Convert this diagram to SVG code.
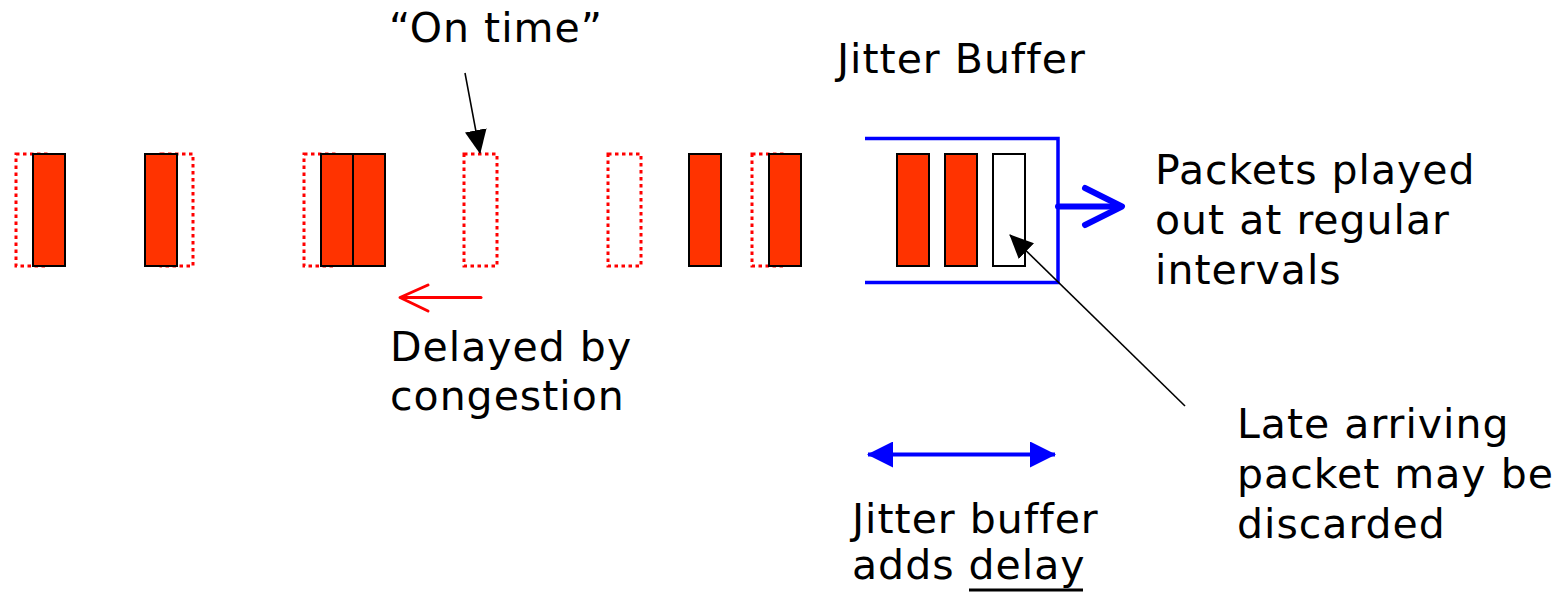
<svg xmlns="http://www.w3.org/2000/svg" width="1564" height="595" viewBox="0 0 1564 595">
  <style>
    .lbl { font-family: "DejaVu Sans", Verdana, sans-serif; font-size: 41px; letter-spacing: 1px; fill: #000; }
    .pkt { fill: #FF3300; stroke: #000; stroke-width: 2; }
    .slot { fill: #fff; stroke: #000; stroke-width: 2; }
    .ghost { fill: none; stroke: #FF0000; stroke-width: 3; stroke-dasharray: 3.5 3.5; }
    .thin { stroke: #000; stroke-width: 1.6; fill: none; }
  </style>
  <defs>
    <marker id="headBlack" markerUnits="userSpaceOnUse" markerWidth="24" markerHeight="22" viewBox="0 0 24 22" refX="23" refY="11" orient="auto">
      <path d="M0,0 L24,11 L0,22 Z" fill="#000"/>
    </marker>
    <marker id="headBlue" markerUnits="userSpaceOnUse" markerWidth="26" markerHeight="26" viewBox="0 0 26 26" refX="25" refY="13" orient="auto-start-reverse">
      <path d="M0,0 L26,13 L0,26 Z" fill="#0000FF"/>
    </marker>
  </defs>
  <rect width="1564" height="595" fill="#fff"/>

  <!-- expected packet positions (dotted outlines) -->
  <g id="ghosts">
    <rect class="ghost" x="16" y="154" width="32" height="112"/>
    <rect class="ghost" x="161" y="154" width="32" height="112"/>
    <rect class="ghost" x="304" y="154" width="32" height="112"/>
    <rect class="ghost" x="464" y="154" width="33" height="112"/>
    <rect class="ghost" x="608" y="154" width="33" height="112"/>
    <rect class="ghost" x="752" y="154" width="33" height="112"/>
  </g>

  <!-- actual packets as received -->
  <g id="packets">
    <rect class="pkt" x="33" y="154" width="32" height="112"/>
    <rect class="pkt" x="145" y="154" width="32" height="112"/>
    <rect class="pkt" x="321" y="154" width="32" height="112"/>
    <rect class="pkt" x="353" y="154" width="32" height="112"/>
    <rect class="pkt" x="689" y="154" width="32" height="112"/>
    <rect class="pkt" x="769" y="154" width="32" height="112"/>
  </g>

  <!-- jitter buffer -->
  <g id="jitter-buffer">
    <path d="M865,138.5 H1058 V282.5 H865" fill="none" stroke="#0000FF" stroke-width="3.5"/>
    <rect class="pkt" x="897" y="154" width="32" height="112"/>
    <rect class="pkt" x="945" y="154" width="32" height="112"/>
    <rect class="slot" x="993" y="154" width="32" height="112"/>
  </g>

  <!-- connectors -->
  <g id="connectors">
    <line class="thin" x1="465" y1="73" x2="480" y2="153" marker-end="url(#headBlack)"/>
    <line class="thin" x1="1185" y1="406" x2="1010" y2="235" marker-end="url(#headBlack)"/>
    <g fill="none" stroke="#FF0000" stroke-width="3" stroke-linecap="round" stroke-linejoin="round">
      <line x1="481" y1="297.5" x2="401" y2="297.5"/>
      <polyline points="428,285 400,297.5 428,311"/>
    </g>
    <g fill="none" stroke="#0000FF" stroke-width="6" stroke-linecap="round" stroke-linejoin="round">
      <line x1="1058" y1="206.5" x2="1118" y2="206.5"/>
      <polyline points="1085,188 1122,206.5 1085,225"/>
    </g>
    <line x1="868" y1="454.5" x2="1055" y2="454.5" stroke="#0000FF" stroke-width="4" marker-start="url(#headBlue)" marker-end="url(#headBlue)"/>
  </g>

  <!-- labels -->
  <g id="labels">
    <text class="lbl" x="389" y="42">“On time”</text>
    <text class="lbl" x="837" y="73">Jitter Buffer</text>
    <text class="lbl" x="1155" y="184">Packets played</text>
    <text class="lbl" x="1155" y="234">out at regular</text>
    <text class="lbl" x="1155" y="284">intervals</text>
    <text class="lbl" x="390" y="361">Delayed by</text>
    <text class="lbl" x="390" y="410">congestion</text>
    <text class="lbl" x="1237" y="438">Late arriving</text>
    <text class="lbl" x="1237" y="488">packet may be</text>
    <text class="lbl" x="1237" y="538">discarded</text>
    <text class="lbl" x="852" y="533">Jitter buffer</text>
    <text class="lbl" x="852" y="579">adds delay</text>
    <!-- underline beneath "delay" -->
    <line x1="969" y1="590" x2="1083" y2="590" stroke="#000" stroke-width="3"/>
  </g>
</svg>
